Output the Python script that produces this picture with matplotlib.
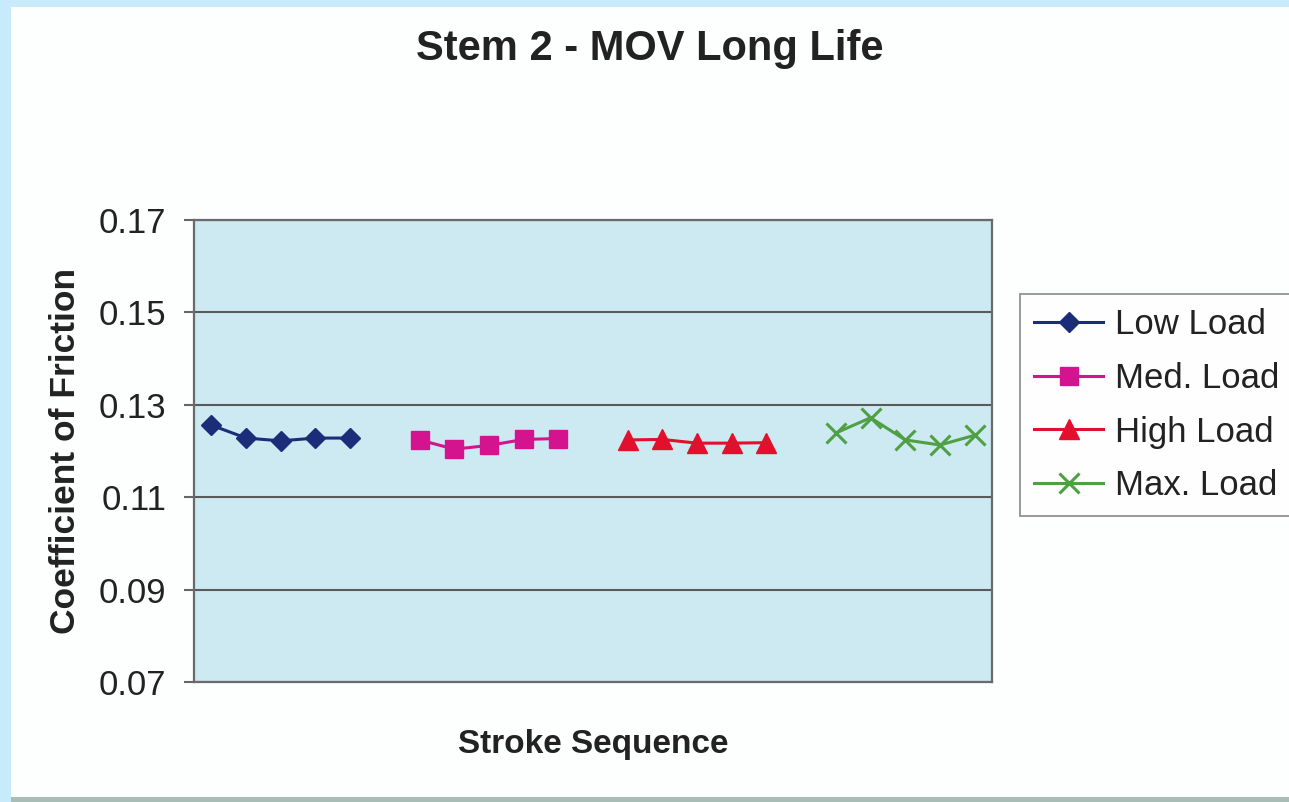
import numpy as np
import matplotlib
matplotlib.use('Agg')
import matplotlib.pyplot as plt
from matplotlib.patches import Rectangle

plt.rcParams['font.family'] = ['Liberation Sans', 'DejaVu Sans']

# valores (coeficiente de atrito)
low_load = [0.1256, 0.1228, 0.1222, 0.1228, 0.1228]
med_load = [0.1224, 0.1204, 0.1212, 0.1225, 0.1227]
high_load = [0.1224, 0.1225, 0.1217, 0.1217, 0.1218]
max_load = [0.1239, 0.1272, 0.1224, 0.1213, 0.1234]

series_names = ['Low Load', 'Med. Load', 'High Load', 'Max. Load']
yticks = [0.07, 0.09, 0.11, 0.13, 0.15, 0.17]

W, H = 1289, 802
fig = plt.figure(figsize=(W / 100, H / 100), dpi=100)
fig.patch.set_facecolor('#c8ebfc')
# area branca da folha escaneada
fig.patches.append(Rectangle((11 / W, 5 / H), 1 - 11 / W, 1 - 12 / H,
                             transform=fig.transFigure, facecolor='#fdfefe',
                             edgecolor='none', zorder=-10))
fig.patches.append(Rectangle((11 / W, 0), 1 - 11 / W, 5 / H,
                             transform=fig.transFigure, facecolor='#a7bdb6',
                             edgecolor='none', zorder=-10))

ax = fig.add_axes([194 / W, 1 - 682 / H, (992 - 194) / W, (682 - 220) / H])
ax.set_facecolor('#cdeaf2')

# cada grupo de 5 pontos, com uma categoria vazia entre grupos
series = [low_load, med_load, high_load, max_load]
estilos = [
    dict(color='#1b2d78', marker='D', ms=10.5),
    dict(color='#d3148e', marker='s', ms=13),
    dict(color='#e2102c', marker='^', ms=14),
    dict(color='#4f9f45', marker='x', ms=15, mew=2.2),
]
for i, (vals, nome, est) in enumerate(zip(series, series_names, estilos)):
    xs = np.arange(len(vals)) + 1 + i * (len(vals) + 1)
    ax.plot(xs, vals, '-', lw=2.2, label=nome, zorder=3, **est)

ax.set_xlim(0.5, 23.5)
ax.set_ylim(0.07, 0.17)
ax.set_yticks(yticks)
ax.set_yticklabels(['%.2f' % v for v in yticks], fontsize=25, color='#222222')
ax.set_xticks([])
ax.yaxis.grid(True, color='#5a5a5a', lw=1.5)
ax.set_axisbelow(True)
ax.tick_params(axis='y', length=7, width=1.5, color='#666666', pad=13)
for lado in ['left', 'bottom', 'right', 'top']:
    ax.spines[lado].set_color('#6a6a6a')
    ax.spines[lado].set_linewidth(1.6)

ax.set_ylabel('Coefficient of Friction', fontsize=25.5, fontweight='bold',
              color='#222222', labelpad=12)
ax.set_xlabel('Stroke Sequence', fontsize=24, fontweight='bold',
              color='#222222', labelpad=34)
fig.text(650 / W, 1 - 49 / H, 'Stem 2 - MOV Long Life', fontsize=30,
         fontweight='bold', color='#222222', ha='center', va='center')

leg = fig.legend(loc='upper left', bbox_to_anchor=(1020 / W, 1 - 294 / H),
                 bbox_transform=fig.transFigure, fontsize=25, frameon=True,
                 fancybox=False, borderaxespad=0, handlelength=2.0,
                 handletextpad=0.35, labelspacing=0.6, borderpad=0.4)
leg.get_frame().set_edgecolor('#777777')
leg.get_frame().set_linewidth(1.3)
leg.get_frame().set_facecolor('white')
for t in leg.get_texts():
    t.set_color('#222222')

fig.savefig('out.png', dpi=100)
plt.close()
